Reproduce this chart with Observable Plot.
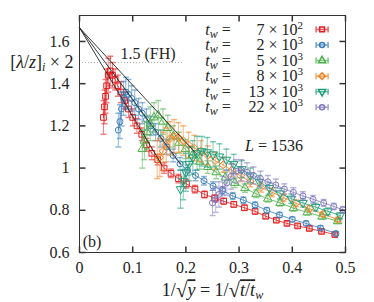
<!DOCTYPE html>
<html><head><meta charset="utf-8">
<script src="https://cdn.jsdelivr.net/npm/d3@7"></script>
<script src="https://cdn.jsdelivr.net/npm/@observablehq/plot@0.6"></script>
<style>html,body{margin:0;padding:0;background:#fff}svg{display:block}</style>
</head><body><div id="chart"></div>
<script>
// ---- data ----
const twMantissa = ["7", "2", "5", "8", "13", "22"];
const twExponent = ["2", "3", "3", "3", "3", "3"];
const colors = ["#e41a1c", "#377eb8", "#4daf4a", "#f08020", "#1b9e77", "#8078c0"];

const redX = [0.045,0.047,0.049,0.051,0.054,0.058,0.062,0.067,0.072,0.078,0.085,0.092,0.100,0.108,0.117,0.126,0.136,0.147,0.159,0.172,0.186,0.201,0.217,0.235,0.254,0.271,0.290,0.310,0.330,0.350,0.370,0.390,0.410,0.432,0.455,0.480];
const redY = [1.24,1.29,1.34,1.39,1.44,1.46,1.44,1.42,1.39,1.36,1.32,1.28,1.24,1.20,1.16,1.11,1.07,1.04,1.00,0.975,0.95,0.925,0.90,0.875,0.858,0.843,0.828,0.812,0.795,0.772,0.753,0.738,0.726,0.714,0.700,0.685];
const redE = [0.08,0.08,0.08,0.08,0.08,0.07,0.06,0.05,0.05,0.05,0.04,0.04,0.04,0.035,0.03,0.03,0.03,0.025,0.025,0.02,0.02,0.02,0.018,0.016,0.015,0.014,0.013,0.012,0.012,0.011,0.01,0.01,0.01,0.009,0.009,0.008];

const blueX = [0.073,0.076,0.079,0.083,0.087,0.092,0.098,0.104,0.111,0.118,0.126,0.134,0.143,0.153,0.164,0.176,0.189,0.203,0.218,0.234,0.251,0.269,0.288,0.308,0.330,0.352,0.376,0.400,0.426,0.453,0.482];
const blueY = [1.18,1.22,1.28,1.33,1.36,1.35,1.33,1.31,1.28,1.26,1.23,1.20,1.17,1.14,1.10,1.06,1.02,0.99,0.965,0.94,0.915,0.892,0.868,0.848,0.825,0.80,0.778,0.757,0.738,0.716,0.69];
const blueE = [0.08,0.08,0.08,0.08,0.07,0.07,0.06,0.06,0.05,0.05,0.05,0.045,0.04,0.04,0.035,0.03,0.03,0.025,0.025,0.02,0.02,0.018,0.016,0.015,0.014,0.013,0.012,0.011,0.01,0.01,0.009];

const greenX = [0.118,0.122,0.127,0.133,0.140,0.148,0.157,0.166,0.176,0.187,0.199,0.212,0.226,0.241,0.257,0.274,0.292,0.311,0.332,0.354,0.377,0.402,0.428,0.456,0.485];
const greenY = [1.09,1.13,1.17,1.21,1.24,1.25,1.22,1.19,1.15,1.12,1.09,1.06,1.03,1.005,0.98,0.955,0.93,0.905,0.878,0.855,0.835,0.81,0.79,0.77,0.748];
const greenE = [0.09,0.09,0.08,0.08,0.07,0.07,0.06,0.06,0.05,0.05,0.045,0.04,0.035,0.03,0.03,0.025,0.022,0.02,0.018,0.016,0.015,0.014,0.012,0.011,0.01];

const orangeX = [0.146,0.151,0.157,0.163,0.170,0.178,0.186,0.195,0.205,0.216,0.228,0.241,0.255,0.270,0.286,0.303,0.321,0.341,0.362,0.384,0.407,0.432,0.458,0.486];
const orangeY = [1.04,1.05,1.08,1.11,1.14,1.15,1.145,1.13,1.11,1.095,1.08,1.06,1.035,1.015,0.99,0.963,0.935,0.908,0.885,0.86,0.833,0.808,0.782,0.756];
const orangeE = [0.09,0.09,0.09,0.08,0.08,0.08,0.07,0.07,0.06,0.06,0.05,0.045,0.04,0.035,0.03,0.027,0.024,0.022,0.02,0.018,0.016,0.014,0.012,0.011];

const tealX = [0.190,0.195,0.200,0.206,0.213,0.221,0.230,0.240,0.251,0.263,0.276,0.290,0.305,0.321,0.338,0.357,0.377,0.398,0.420,0.444,0.467,0.490];
const tealY = [0.90,0.94,0.98,1.02,1.05,1.07,1.08,1.075,1.065,1.055,1.04,1.02,0.995,0.965,0.935,0.905,0.88,0.855,0.835,0.815,0.795,0.775];
const tealE = [0.09,0.09,0.09,0.08,0.08,0.08,0.07,0.07,0.06,0.06,0.05,0.045,0.04,0.035,0.03,0.027,0.024,0.022,0.02,0.018,0.016,0.014];

const purpleX = [0.250,0.256,0.262,0.269,0.277,0.285,0.294,0.304,0.315,0.327,0.340,0.354,0.369,0.385,0.402,0.420,0.439,0.459,0.478,0.495];
const purpleY = [0.835,0.85,0.875,0.90,0.93,0.96,0.985,0.99,0.98,0.965,0.95,0.935,0.92,0.90,0.885,0.868,0.852,0.835,0.818,0.803];
const purpleE = [0.06,0.06,0.06,0.06,0.06,0.06,0.055,0.05,0.045,0.04,0.035,0.03,0.028,0.025,0.022,0.02,0.018,0.016,0.015,0.014];

// straight fits toward x = 0
const fitX0 = [0, 0, 0];
const fitY0 = [1.665, 1.665, 1.665];
const fitX1 = [0.22, 0.19, 0.155];
const fitY1 = [1.067, 1.019, 1.014];

const fhValue = 1.5;
const xTicks = [0, 0.1, 0.2, 0.3, 0.4, 0.5];
const yTicks = [0.6, 0.8, 1, 1.2, 1.4, 1.6];

// ---- build tables ----
const seriesX = [redX, blueX, greenX, orangeX, tealX, purpleX];
const seriesY = [redY, blueY, greenY, orangeY, tealY, purpleY];
const seriesE = [redE, blueE, greenE, orangeE, tealE, purpleE];
const symbols = ["square", "circle", "triangle", "diamond2", "triangle", "circle"];
const rotates = [0, 0, 0, 0, 180, 0];
const radii = [3.2, 3, 3.2, 3.5, 3.2, 3];

const FONT = "'Liberation Serif', 'DejaVu Serif', serif";
const cap = {draw(c){c.moveTo(-3,0);c.lineTo(3,0);}};
const tickR = {draw(c){c.moveTo(0,0);c.lineTo(6,0);}};
const tickL = {draw(c){c.moveTo(0,0);c.lineTo(-6,0);}};
const tickU = {draw(c){c.moveTo(0,0);c.lineTo(0,-6);}};
const tickD = {draw(c){c.moveTo(0,0);c.lineTo(0,6);}};
const keySym = {draw(c){c.moveTo(-6,0);c.lineTo(6,0);c.moveTo(-6,-3);c.lineTo(-6,3);c.moveTo(6,-3);c.lineTo(6,3);}};

const marks = [];
marks.push(Plot.ruleY([fhValue], {x1: 0, x2: 0.195, stroke: "#aaa", strokeDasharray: "1,2"}));

seriesX.forEach((xs, i) => {
  const rows = xs.map((x, j) => ({x, y: seriesY[i][j], e: seriesE[i][j]}));
  const col = colors[i];
  marks.push(Plot.ruleX(rows, {x: "x", y1: d => d.y - d.e, y2: d => d.y + d.e, stroke: col, strokeOpacity: 0.55}));
  marks.push(Plot.dot(rows, {x: "x", y: d => d.y - d.e, symbol: cap, stroke: col, strokeOpacity: 0.55}));
  marks.push(Plot.dot(rows, {x: "x", y: d => d.y + d.e, symbol: cap, stroke: col, strokeOpacity: 0.55}));
  marks.push(Plot.line(rows, {x: "x", y: "y", stroke: col, strokeWidth: 0.8}));
  marks.push(Plot.dot(rows, {x: "x", y: "y", symbol: symbols[i], rotate: rotates[i], r: radii[i], stroke: col, strokeWidth: 1, fill: "none"}));
});

const fits = fitX0.flatMap((x0, k) => [{k, x: x0, y: fitY0[k]}, {k, x: fitX1[k], y: fitY1[k]}]);
marks.push(Plot.line(fits, {x: "x", y: "y", z: "k", stroke: "#222", strokeWidth: 0.9}));

const T = {fill: "#222", fontFamily: FONT, fontSize: 16};
// legend
const legendRows = twMantissa.map((m, i) => ({i, y: 1.657 - i * 0.0738}));
marks.push(Plot.text(legendRows, {...T, x: 0.2364, y: "y", text: () => "§tw", textAnchor: "start", lineAnchor: "middle"}));
marks.push(Plot.text(legendRows, {...T, x: 0.42, y: "y", text: d => "§n" + d.i, textAnchor: "end", lineAnchor: "middle"}));
legendRows.forEach((r, i) => {
  marks.push(Plot.dot([r], {x: 0.456, y: "y", symbol: keySym, stroke: colors[i], strokeOpacity: 0.7}));
  marks.push(Plot.dot([r], {x: 0.456, y: "y", symbol: symbols[i], rotate: rotates[i], r: radii[i] * 0.85, stroke: colors[i], fill: "none"}));
});

// annotations
marks.push(Plot.text(["§fh"], {...T, x: 0.077, y: 1.543, textAnchor: "start", lineAnchor: "middle"}));
marks.push(Plot.text(["§L"], {...T, x: 0.42, y: 1.105, textAnchor: "end", lineAnchor: "middle"}));
marks.push(Plot.text(["(b)"], {...T, x: 0.006, y: 0.652, textAnchor: "start", lineAnchor: "middle"}));
marks.push(Plot.text(["§ylab"], {...T, fontSize: 18, frameAnchor: "left", y: fhValue, dx: -6, textAnchor: "end", lineAnchor: "middle"}));
marks.push(Plot.text(["§xlab"], {...T, fontSize: 18, frameAnchor: "bottom", dy: 38, lineAnchor: "middle"}));

// axes (inward ticks)
marks.push(Plot.axisX({ticks: xTicks, tickSize: 0, tickPadding: 9, tickFormat: d => String(d), label: null, fill: "#222", fontFamily: FONT, fontSize: 16}));
marks.push(Plot.axisY({ticks: yTicks, tickSize: 0, tickPadding: 10, tickFormat: d => String(d), label: null, fill: "#222", fontFamily: FONT, fontSize: 16}));
marks.push(Plot.dot(yTicks, {y: d => d, frameAnchor: "left", symbol: tickR, stroke: "#333"}));
marks.push(Plot.dot(yTicks, {y: d => d, frameAnchor: "right", symbol: tickL, stroke: "#333"}));
marks.push(Plot.dot(xTicks, {x: d => d, frameAnchor: "bottom", symbol: tickU, stroke: "#333"}));
marks.push(Plot.dot(xTicks, {x: d => d, frameAnchor: "top", symbol: tickD, stroke: "#333"}));
marks.push(Plot.frame({stroke: "#333", strokeWidth: 1}));

const svg = Plot.plot({
  width: 374, height: 302,
  marginLeft: 79, marginRight: 29, marginTop: 15, marginBottom: 50,
  x: {domain: [0, 0.5]},
  y: {domain: [0.6, 1.723]},
  style: {fontFamily: FONT, fontSize: "16px", color: "#222", background: "#fff", overflow: "visible"},
  marks
});

const it = (s) => `<tspan font-style="italic">${s}</tspan>`;
const sub = (s) => `<tspan font-style="italic" font-size="12" dy="3">${s}</tspan>`;
const rad = `<tspan font-size="21" dy="1">√</tspan>`;
const ov = (s) => `<tspan dy="-1" style="text-decoration:overline">${s}</tspan>`;
const rich = {
  "§tw": `${it("t")}${sub("w")}<tspan dy="-3"> =</tspan>`,
  "§fh": "1.5 (FH)",
  "§L": `${it("L")} = 1536`,
  "§ylab": `[${it("λ")}/${it("z")}]${sub("i")}<tspan dy="-3"> × 2</tspan>`,
  "§xlab": `1/${rad}${ov(it("y"))}<tspan> = 1/</tspan>${rad}${ov(it("t") + "/" + it("t"))}${sub("w")}`
};
twMantissa.forEach((m, i) => {
  rich["§n" + i] = `${m} × 10<tspan font-size="11" dy="-6">${twExponent[i]}</tspan>`;
});
svg.querySelectorAll("text").forEach(t => {
  const key = t.textContent;
  if (rich[key] !== undefined) t.innerHTML = rich[key];
});
document.getElementById("chart").appendChild(svg);
</script>
</body></html>
